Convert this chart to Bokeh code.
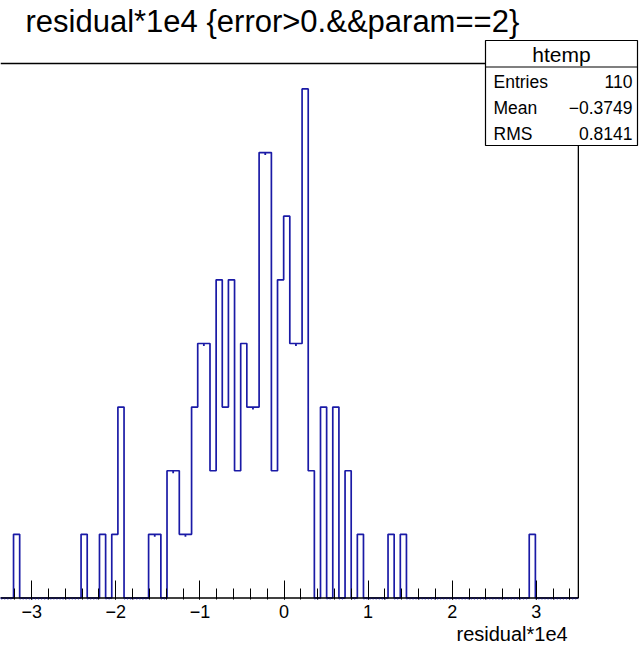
import numpy as np
from bokeh.plotting import figure
from bokeh.models import Range1d, FixedTicker, CustomJSTickFormatter, Label, Title
from bokeh.embed import file_html
from bokeh.resources import INLINE

# ---------------- data (ROOT htemp) ----------------
hist_name = "htemp"
title_text = "residual*1e4 {error>0.&&param==2}"
x_title = "residual*1e4"
hist_xmin = -3.8
hist_xmax = 3.5
n_bins = 100
bin_counts = [
    0, 0, 0, 0, 0, 0, 0, 0, 1, 0,
    0, 0, 0, 0, 0, 0, 0, 0, 0, 1,
    0, 0, 1, 0, 1, 3, 0, 0, 0, 0,
    1, 1, 0, 2, 2, 1, 1, 3, 4, 4,
    2, 5, 3, 5, 2, 4, 3, 3, 7, 7,
    2, 5, 6, 4, 4, 8, 2, 0, 3, 0,
    3, 0, 2, 0, 1, 0, 0, 0, 0, 1,
    0, 1, 0, 0, 0, 0, 0, 0, 0, 0,
    0, 0, 0, 0, 0, 0, 0, 0, 0, 0,
    0, 0, 1, 0, 0, 0, 0, 0, 0, 0,
]
stat_labels = ["Entries", "Mean", "RMS"]
stat_values = ["110", "\u22120.3749", "0.8141"]
major_ticks = [-3, -2, -1, 0, 1, 2, 3]
minor_ticks = [round(-3.8 + 0.2 * i, 1) for i in range(37)]
y_frame_max = 8.4  # ROOT: max * 1.05

# ---------------- layout constants ----------------
W, H = 639, 648
x0_px, x_scale = 283.5, 84.1    # pixel of x=0, pixels per unit
y0_px, y_scale = 597.5, 63.63   # pixel of y=0, pixels per entry
frame_bottom_px = 599


def dx(px):
    return (px - x0_px) / x_scale


def dy(py):
    return (y0_px - py) / y_scale


FONT = "Liberation Sans"
BLUE = "#1a1aa6"

p = figure(width=W, height=H, output_backend="svg", toolbar_location=None,
           x_range=Range1d(dx(0), dx(W)), y_range=Range1d(dy(frame_bottom_px), dy(0)),
           min_border=0, min_border_bottom=H - frame_bottom_px, title=None)
p.outline_line_color = None
p.background_fill_color = "white"
p.border_fill_color = "white"
p.xgrid.visible = False
p.ygrid.visible = False
p.yaxis.visible = False

ax = p.xaxis[0]
ax.ticker = FixedTicker(ticks=major_ticks, minor_ticks=minor_ticks)
ax.formatter = CustomJSTickFormatter(code="return tick < 0 ? '\u2212' + Math.abs(tick) : '' + tick;")
ax.axis_line_color = None
ax.major_tick_in = 19
ax.major_tick_out = 0
ax.minor_tick_in = 11
ax.minor_tick_out = 0
ax.major_tick_line_color = "black"
ax.minor_tick_line_color = "black"
ax.major_label_text_font = FONT
ax.major_label_text_font_size = "18px"
ax.major_label_text_color = "black"
ax.major_label_standoff = 5

# x-axis title, right-aligned under the frame's right edge
p.add_layout(Title(text=x_title, align="left", offset=456, standoff=0,
                   text_font=FONT, text_font_size="20px", text_font_style="normal",
                   text_color="black"), "below")

# ---------------- histogram ----------------
counts = np.array(bin_counts, dtype=float)
edges = np.linspace(hist_xmin, hist_xmax, n_bins + 1)
xs = np.repeat(edges, 2)[1:-1]
ys = np.repeat(counts, 2)
p.line(xs, ys, line_color=BLUE, line_width=1.7)

# small marks at joints of equal, non-empty bins (ROOT artefact)
same = np.where((counts[:-1] == counts[1:]) & (counts[:-1] > 0))[0]
p.segment(x0=edges[same + 1], y0=counts[same], x1=edges[same + 1], y1=counts[same] - 2.4 / y_scale,
          line_color=BLUE, line_width=1.8)

# frame (bottom, top, right)
p.segment(x0=[dx(0), dx(0), hist_xmax], y0=[0, y_frame_max, 0],
          x1=[hist_xmax, hist_xmax, hist_xmax], y1=[0, y_frame_max, y_frame_max],
          line_color="black", line_width=1.3)

# dotted blue baseline under empty bins
empty = np.where(counts == 0)[0]
p.segment(x0=edges[empty], y0=np.full(len(empty), dy(598.7)), x1=edges[empty + 1],
          y1=np.full(len(empty), dy(598.7)), line_color=BLUE, line_width=1.2, line_dash="1 2")

# ---------------- stats box ----------------
bx0, bx1 = dx(485), dx(637)
by_top, by_div, by_bot = dy(40), dy(66.5), dy(145)
p.quad(left=[bx0], right=[bx1], top=[by_top], bottom=[by_bot], fill_color="white",
       line_color="black", line_width=1.2)
p.segment(x0=[bx0], y0=[by_div], x1=[bx1], y1=[by_div], line_color="black", line_width=1.2)
p.add_layout(Label(x=(bx0 + bx1) / 2, y=dy(53.5), text=hist_name, text_align="center",
                   text_baseline="middle", text_font=FONT, text_font_size="21px", text_color="black"))
row_px = [81, 107, 133]
for lab, val, rp in zip(stat_labels, stat_values, row_px):
    p.add_layout(Label(x=dx(493), y=dy(rp), text=lab, text_align="left", text_baseline="middle",
                       text_font=FONT, text_font_size="17.5px", text_color="black"))
    p.add_layout(Label(x=dx(632), y=dy(rp), text=val, text_align="right", text_baseline="middle",
                       text_font=FONT, text_font_size="17.5px", text_color="black"))

# ---------------- title ----------------
p.add_layout(Label(x=dx(25), y=dy(21), text=title_text, text_align="left", text_baseline="middle",
                   text_font=FONT, text_font_size="31px", text_color="black"))

open("out.html", "w").write(file_html(p, INLINE))
